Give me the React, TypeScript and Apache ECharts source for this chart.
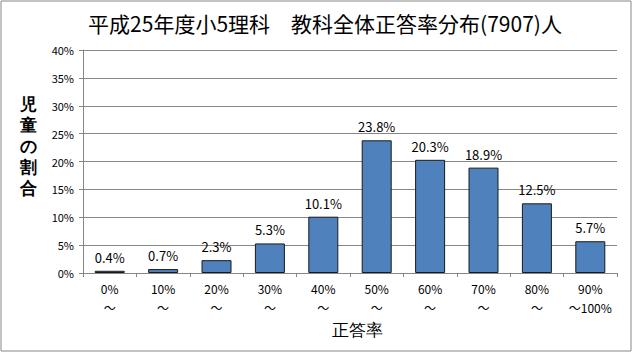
import React, { useEffect, useRef } from "react";
import * as echarts from "echarts";

const categories = ["0%\n～", "10%\n～", "20%\n～", "30%\n～", "40%\n～", "50%\n～", "60%\n～", "70%\n～", "80%\n～", "90%\n～100%"];
const values = [0.4, 0.7, 2.3, 5.3, 10.1, 23.8, 20.3, 18.9, 12.5, 5.7];
const titleText = "平成25年度小5理科　教科全体正答率分布(7907)人";
const yName = "児\n童\nの\n割\n合";
const xName = "正答率";

const FONT = "'Noto Sans CJK JP', 'Noto Sans', sans-serif";

export default function App() {
  const ref = useRef<HTMLDivElement>(null);
  useEffect(() => {
    document.body.style.margin = "0";
    const chart = echarts.init(ref.current!, null, { renderer: "svg" });
    chart.setOption({
      animation: false,
      backgroundColor: "#ffffff",
      textStyle: { fontFamily: FONT },
      title: {
        text: titleText,
        left: 320,
        textAlign: "center",
        top: 7,
        textStyle: { fontSize: 21, fontWeight: "normal", color: "#000", fontFamily: FONT },
      },
      grid: { left: 83, right: 16, top: 50, bottom: 80, containLabel: false },
      xAxis: {
        type: "category",
        data: categories,
        boundaryGap: true,
        axisLine: { lineStyle: { color: "#868686" } },
        axisTick: { show: true, length: 4, lineStyle: { color: "#868686" } },
        axisLabel: { color: "#000", fontSize: 12, lineHeight: 19, margin: 6, fontFamily: FONT, interval: 0 },
      },
      yAxis: {
        type: "value",
        min: 0,
        max: 40,
        interval: 5,
        axisLine: { show: true, lineStyle: { color: "#868686" } },
        axisTick: { show: true, length: 4, lineStyle: { color: "#868686" } },
        splitLine: { show: true, lineStyle: { color: "#868686" } },
        axisLabel: { formatter: "{value}%", color: "#000", fontSize: 11, margin: 9, fontFamily: FONT },
      },
      graphic: [
        { type: "rect", shape: { x: 1, y: 1, width: 630, height: 350 }, style: { fill: "none", stroke: "#888", lineWidth: 1 }, silent: true },
        { type: "text", x: 28, y: 146, style: { text: yName, fontSize: 17, lineHeight: 21, fontWeight: "bold", fill: "#000", align: "center", verticalAlign: "middle", font: "bold 17px " + FONT } },
        { type: "text", x: 357, y: 330, style: { text: xName, fontSize: 17, fill: "#000", align: "center", verticalAlign: "middle", font: "17px " + FONT } },
      ],
      series: [
        {
          type: "bar",
          data: values,
          barWidth: 30,
          itemStyle: { color: "#4F81BD", borderColor: "#1a1a1a", borderWidth: 1 },
          label: {
            show: true,
            position: "top",
            distance: 7,
            formatter: (p: any) => p.value.toFixed(1) + "%",
            color: "#000",
            fontSize: 13,
            fontFamily: FONT,
          },
        },
      ],
    });
    return () => chart.dispose();
  }, []);
  return <div ref={ref} style={{ width: 633, height: 353 }} />;
}
